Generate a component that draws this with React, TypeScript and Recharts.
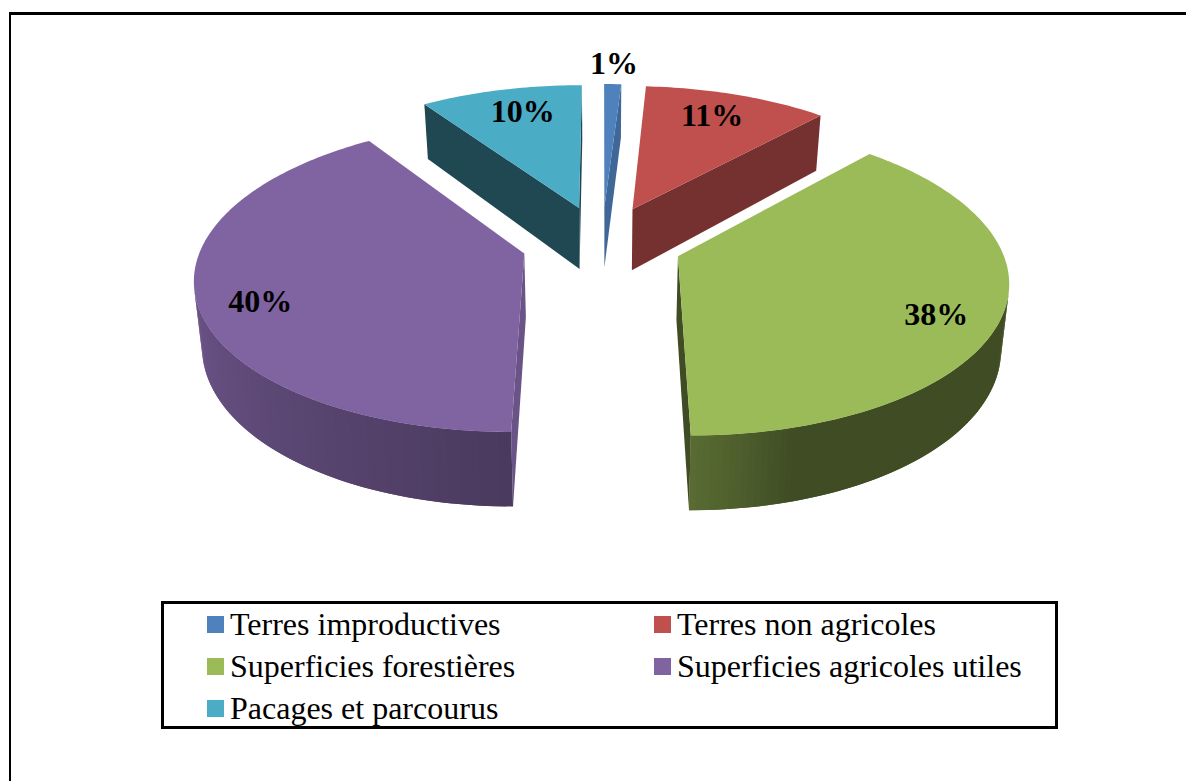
import { Legend, Pie, PieChart } from "recharts";

const categories = [
  "Terres improductives",
  "Terres non agricoles",
  "Superficies forestières",
  "Superficies agricoles utiles",
  "Pacages et parcourus",
];
const shares = [1.0, 10.8, 38.2, 40.49, 9.51];
const colors = ["#4f81bd", "#c0504d", "#9bbb59", "#8064a2", "#4bacc6"];

// how dark the flat cut faces of each slice are
const cutShade = [0.8, 0.61, 0.41, 0.83, 0.42];
// label spot in each slice: radius and angle shift from the slice middle
const labelRadius = [1.18, 0.775, 0.826, 0.826, 0.775];
const labelShift = [0, -1, 5.6, -5.2, 1.6];
// rim darkness by clockwise angle from the top
const wallShade = [
  [0, 0.41],
  [164, 0.41],
  [180, 0.58],
  [270, 0.88],
  [360, 0.88],
];

const pieData = categories.map((name, i) => ({ name, value: shares[i], fill: colors[i] }));

const FONT = '"Liberation Serif", "Times New Roman", serif';
const EXPLODE = 0.25;
const CAMERA = 7;
const SQUASH = 0.4598;
const THICKNESS = 0.194;
const WIDTH_FIT = 0.99;
const LOW_SHRINK = 0.98;
const RAD = Math.PI / 180;

type Pt = [number, number];

const project = (cx: number, cy: number, R: number, X: number, V: number, low: boolean): Pt => {
  const s = CAMERA / (CAMERA - V);
  return [
    cx + X * R * s * WIDTH_FIT * (low ? LOW_SHRINK : 1),
    cy + (V * SQUASH + (low ? THICKNESS : 0)) * R * s,
  ];
};

// a = clockwise degrees from the top, r = fraction of the radius
const slicePoint = (cx: number, cy: number, R: number, mid: number, a: number, r: number, low = false) =>
  project(
    cx,
    cy,
    R,
    EXPLODE * Math.sin(mid * RAD) + r * Math.sin(a * RAD),
    -EXPLODE * Math.cos(mid * RAD) - r * Math.cos(a * RAD),
    low,
  );

const toPath = (pts: Pt[]) => pts.map((p) => `${p[0].toFixed(2)},${p[1].toFixed(2)}`).join(" ");

const isFacing = (pts: Pt[]) => {
  let sum = 0;
  pts.forEach((p, i) => {
    const q = pts[(i + 1) % pts.length];
    sum += p[0] * q[1] - q[0] * p[1];
  });
  return sum < 0;
};

const darken = (hex: string, f: number) => {
  const n = parseInt(hex.slice(1), 16);
  const c = [(n >> 16) & 255, (n >> 8) & 255, n & 255].map((v) => Math.round(v * f));
  return `rgb(${c[0]},${c[1]},${c[2]})`;
};

const wallFactor = (a: number) => {
  const angle = ((a % 360) + 360) % 360;
  for (let i = 1; i < wallShade.length; i++) {
    if (angle <= wallShade[i][0]) {
      const [a0, f0] = wallShade[i - 1];
      const [a1, f1] = wallShade[i];
      return f0 + ((angle - a0) / (a1 - a0)) * (f1 - f0);
    }
  }
  return 0.88;
};

const Slice3D = (props: any) => {
  const { cx, cy, outerRadius: R, startAngle, endAngle, fill } = props;
  const a0 = 90 - startAngle;
  const a1 = 90 - endAngle;
  const mid = (a0 + a1) / 2;
  const at = (a: number, r: number, low = false) => slicePoint(cx, cy, R, mid, a, r, low);

  const steps = Math.max(2, Math.ceil(a1 - a0));
  const rim: number[] = [];
  for (let i = 0; i <= steps; i++) rim.push(a0 + ((a1 - a0) * i) / steps);

  const cutColor = darken(fill, cutShade[colors.indexOf(fill)]);
  const startCut = [at(a0, 0), at(a0, 1), at(a0, 1, true), at(a0, 0, true)];
  const endCut = [at(a1, 1), at(a1, 0), at(a1, 0, true), at(a1, 1, true)];

  return (
    <g>
      {[startCut, endCut].filter(isFacing).map((pts, i) => (
        <polygon key={i} points={toPath(pts)} fill={cutColor} />
      ))}
      {rim.slice(1).map((a, i) => {
        const prev = rim[i];
        const quad = [at(prev, 1), at(a, 1), at(a, 1, true), at(prev, 1, true)];
        if (!isFacing(quad)) return null;
        // each band runs under the next one so no seams show between them
        const next = rim[Math.min(i + 2, rim.length - 1)];
        const band = [at(prev, 1), at(next, 1), at(next, 1, true), at(prev, 1, true)];
        return <polygon key={a} points={toPath(band)} fill={darken(fill, wallFactor((prev + a) / 2))} />;
      })}
      <polygon points={toPath([at(a0, 0), ...rim.map((a) => at(a, 1))])} fill={fill} />
    </g>
  );
};

const SliceLabel = (props: any) => {
  const { cx, cy, outerRadius: R, midAngle, percent, index } = props;
  const mid = 90 - midAngle;
  const [x, y] = slicePoint(cx, cy, R, mid, mid + labelShift[index], labelRadius[index]);
  return (
    <text
      x={x}
      y={y - 2.5}
      textAnchor="middle"
      dominantBaseline="central"
      fontFamily={FONT}
      fontWeight="bold"
      fontSize={32}
      fill="#000"
    >
      {`${Math.round(percent * 100)}%`}
    </text>
  );
};

const LegendBox = () => (
  <div
    style={{
      boxSizing: "border-box",
      width: 897,
      height: 128,
      border: "3px solid #000",
      background: "#fff",
      display: "grid",
      gridTemplateColumns: "447px 1fr",
      gridAutoRows: "42px",
      padding: "0 0 0 43px",
      fontFamily: FONT,
      fontSize: 32,
      color: "#000",
    }}
  >
    {categories.map((name, i) => (
      <div key={name} style={{ display: "flex", alignItems: "center", whiteSpace: "nowrap", position: "relative", top: -1 }}>
        <span style={{ width: 17, height: 17, background: colors[i], marginRight: 6, flex: "none" }} />
        {name}
      </div>
    ))}
  </div>
);

export default function App() {
  return (
    <div style={{ position: "absolute", left: 0, top: 0, width: 1186, height: 781, overflow: "hidden", background: "#fff" }}>
      <div style={{ position: "absolute", left: 9, top: 12, right: -10, bottom: -10, borderTop: "3px solid #000", borderLeft: "2px solid #000" }} />
      <PieChart width={1186} height={781} margin={{ top: 0, right: 0, bottom: 0, left: 0 }}>
        <Pie
          data={pieData}
          dataKey="value"
          nameKey="name"
          cx={602}
          cy={242.5}
          outerRadius={325}
          startAngle={90}
          endAngle={-270}
          stroke="none"
          isAnimationActive={false}
          shape={Slice3D}
          label={SliceLabel}
          labelLine={false}
        />
        <Legend
          content={<LegendBox />}
          wrapperStyle={{ position: "absolute", left: 161, top: 601, width: 897, height: 128 }}
        />
      </PieChart>
    </div>
  );
}
